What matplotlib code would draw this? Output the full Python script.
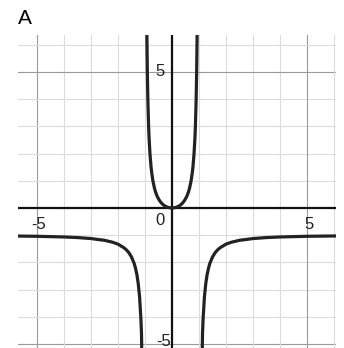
import numpy as np
from matplotlib import pyplot as plt

plt.rcParams['font.family'] = ['Liberation Sans', 'DejaVu Sans']

# points, middle branch (right half, mirrored below)
mid_x = [0.0, 0.05, 0.10, 0.15, 0.20, 0.25, 0.30, 0.35, 0.40, 0.48, 0.55, 0.61,
         0.65, 0.707, 0.75, 0.775, 0.816, 0.85, 0.866, 0.894, 0.913, 0.93]
mid_y = [0.0, 0.0025, 0.010, 0.023, 0.042, 0.067, 0.099, 0.14, 0.19, 0.30, 0.43, 0.59,
         0.73, 1.0, 1.29, 1.5, 2.0, 2.6, 3.0, 4.0, 5.0, 6.4]

# outer branch to the right of the asymptote
out_x = [1.12, 1.13, 1.15, 1.2, 1.25, 1.3, 1.35, 1.4, 1.5, 1.6, 1.7, 1.8, 2.0,
         2.2, 2.5, 3.0, 3.5, 4.0, 5.0, 6.2]
out_y = [-5.2, -4.6, -4.1, -3.27, -2.78, -2.45, -2.22, -2.04, -1.8, -1.64, -1.53,
         -1.45, -1.33, -1.26, -1.19, -1.125, -1.089, -1.067, -1.042, -1.028]

grid_ticks = list(range(-6, 7))
major_ticks = [-5, 5]


def main():
    fig = plt.figure(figsize=(3.44, 3.48), dpi=100)
    ax = fig.add_axes([18 / 344, 0, 318 / 344, 313 / 348])
    ax.set_xlim(-5.70, 6.07)
    ax.set_ylim(-5.15, 6.36)

    # graph paper
    for t in grid_ticks:
        c = '#9a9a9a' if t in major_ticks else '#dcdcdc'
        ax.axvline(t, color=c, lw=0.8, zorder=0)
        ax.axhline(t, color=c, lw=0.8, zorder=0)

    ax.axhline(0, color='#111111', lw=1.6, zorder=2)
    ax.axvline(0, color='#111111', lw=1.6, zorder=2)

    mx = np.array(mid_x)
    my = np.array(mid_y)
    ax.plot(np.concatenate([-mx[::-1], mx[1:]]), np.concatenate([my[::-1], my[1:]]),
            color='#222222', lw=2.3, zorder=3, solid_joinstyle='round')
    ox = np.array(out_x)
    oy = np.array(out_y)
    ax.plot(ox, oy, color='#222222', lw=2.3, zorder=3, solid_joinstyle='round')
    ax.plot(-ox, oy, color='#222222', lw=2.3, zorder=3, solid_joinstyle='round')

    lab = dict(fontsize=12, color='#222222', zorder=4)
    ax.text(-0.44, 5.0, '5', ha='center', va='center', **lab)
    ax.text(-0.44, -0.45, '0', ha='center', va='center', **lab)
    ax.text(-4.95, -0.62, '-5', ha='center', va='center', **lab)
    ax.text(5.07, -0.62, '5', ha='center', va='center', **lab)
    ax.text(-0.32, -4.92, '-5', ha='center', va='center', **lab)

    for s in ax.spines.values():
        s.set_visible(False)
    ax.set_xticks([])
    ax.set_yticks([])

    fig.text(18 / 344, 1 - 18 / 348, 'A', fontsize=15, va='center', ha='left')

    fig.savefig('out.png', dpi=100)


if __name__ == "__main__":
    main()
